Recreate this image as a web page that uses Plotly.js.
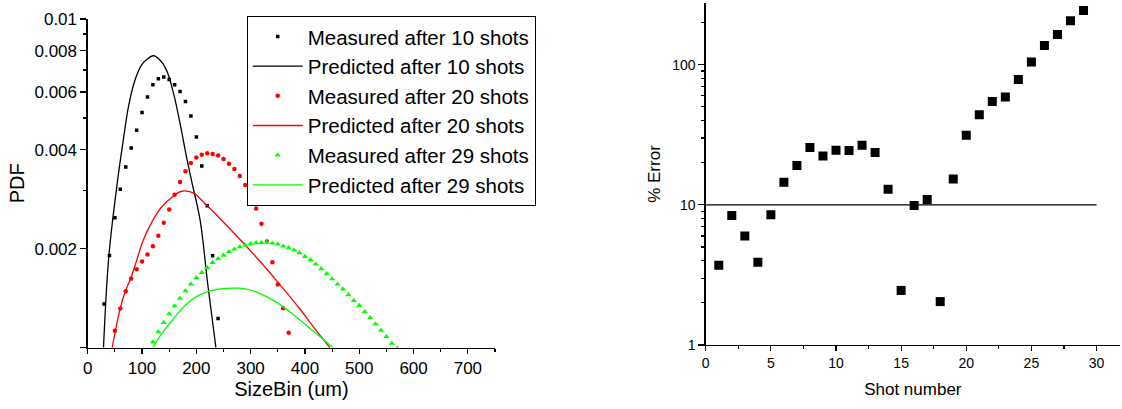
<!DOCTYPE html>
<html>
<head>
<meta charset="utf-8">
<script src="https://cdn.plot.ly/plotly-3.0.1.min.js"></script>
<style>
  html, body { margin: 0; padding: 0; background: #fff; }
  #chart { width: 1122px; height: 409px; }
</style>
</head>
<body>
<div id="chart"></div>
<script>
// Size distributions (PDF vs size bin, um)
const sizeBins10 = [30, 40, 50, 60, 70, 80, 90, 100, 110, 120, 130, 140, 150, 160, 170, 180, 190, 200, 210, 220, 230, 240];
const measured10 = [0.001359, 0.001908, 0.002485, 0.003032, 0.003545, 0.004052, 0.004587, 0.005194, 0.005795, 0.006305, 0.006577, 0.006656, 0.006549, 0.006305, 0.006018, 0.005613, 0.005072, 0.004377, 0.003570, 0.002704, 0.001904, 0.001228];

const predBins10 = [29, 39, 55, 65.5, 75, 87, 99, 108.6, 121, 133, 145, 158, 170, 182, 191, 207, 221, 236];
const predicted10 = [0.001, 0.00191, 0.00323, 0.00428, 0.00541, 0.00652, 0.00724, 0.00753, 0.00773, 0.00750, 0.00699, 0.00594, 0.00481, 0.00380, 0.00323, 0.00244, 0.00156, 0.001];

const sizeBins20 = [50, 60, 70, 80, 90, 100, 110, 120, 130, 140, 150, 160, 170, 180, 190, 200, 210, 220, 230, 240, 250, 260, 270, 280, 290, 300, 310, 320, 330, 340, 350, 360, 370];
const measured20 = [0.001127, 0.001315, 0.001485, 0.001623, 0.001733, 0.001829, 0.001921, 0.002036, 0.002190, 0.002400, 0.002634, 0.002920, 0.003191, 0.003440, 0.003646, 0.003787, 0.003867, 0.003903, 0.003884, 0.003841, 0.003750, 0.003631, 0.003496, 0.003328, 0.003124, 0.002906, 0.002653, 0.002383, 0.002104, 0.001820, 0.001556, 0.001318, 0.001111];

const predBins20 = [45, 60, 69, 79, 90, 102, 118, 136, 155, 173, 197, 207, 243, 280, 317, 354, 391, 418, 446];
const predicted20 = [0.001, 0.001321, 0.001483, 0.001622, 0.001841, 0.002118, 0.002410, 0.002679, 0.002871, 0.002992, 0.002944, 0.002838, 0.002477, 0.002138, 0.001832, 0.001556, 0.001309, 0.001143, 0.001];

const sizeBins29 = [120, 130, 140, 150, 160, 170, 180, 190, 200, 210, 220, 230, 240, 250, 260, 270, 280, 290, 300, 310, 320, 330, 340, 350, 360, 370, 380, 390, 400, 410, 420, 430, 440, 450, 460, 470, 480, 490, 500, 510, 520, 530, 540, 550, 560, 570];
const measured29 = [0.001041, 0.001117, 0.001192, 0.001267, 0.001340, 0.001413, 0.001489, 0.001560, 0.001631, 0.001693, 0.001753, 0.001815, 0.001865, 0.001911, 0.001959, 0.001994, 0.002025, 0.002053, 0.002071, 0.002085, 0.002089, 0.002094, 0.002080, 0.002065, 0.002036, 0.002014, 0.001980, 0.001944, 0.001894, 0.001851, 0.001795, 0.001738, 0.001678, 0.001620, 0.001560, 0.001508, 0.001448, 0.001391, 0.001343, 0.001287, 0.001234, 0.001181, 0.001129, 0.001080, 0.001031, 0.000996];

const predBins29 = [120, 136, 155, 179, 204, 228, 253, 274, 290, 311, 348, 385, 418, 452];
const predicted29 = [0.001, 0.001102, 0.001208, 0.001343, 0.001442, 0.001493, 0.001514, 0.001517, 0.001510, 0.001476, 0.001374, 0.001236, 0.001114, 0.001];

// Prediction error per shot
const shotNumber = [1, 2, 3, 4, 5, 6, 7, 8, 9, 10, 11, 12, 13, 14, 15, 16, 17, 18, 19, 20, 21, 22, 23, 24, 25, 26, 27, 28, 29];
const percentError = [3.7, 8.4, 6.0, 3.9, 8.5, 14.5, 19.1, 25.6, 22.3, 24.5, 24.4, 26.6, 23.6, 12.9, 2.45, 9.9, 10.9, 2.04, 15.3, 31.4, 44.0, 54.6, 58.9, 78.3, 104.5, 137, 164, 206, 243];
const thresholdX = [0, 30];
const thresholdY = [10, 10];

// Axis tick labels
const pdfTicks = [0.001, 0.002, 0.004, 0.006, 0.008, 0.01];
const pdfTickText = ['', '0.002', '0.004', '0.006', '0.008', '0.01'];
const pdfMinorTicks = [0.003, 0.005, 0.007, 0.009];
const errTicks = [1, 10, 100];
const errTickText = ['1', '10', '100'];
const errMinorTicks = [2, 3, 4, 5, 6, 7, 8, 9, 20, 30, 40, 50, 60, 70, 80, 90, 200];

const FONT = '"Liberation Sans", Arial, sans-serif';
const BLACK = '#000000', RED = '#ff0000', GREEN = '#00ff00';

const traces = [
  { x: sizeBins10, y: measured10, name: 'Measured after 10 shots', mode: 'markers',
    marker: { symbol: 'square', size: 3.5, color: BLACK }, xaxis: 'x', yaxis: 'y' },
  { x: predBins10, y: predicted10, name: 'Predicted after 10 shots', mode: 'lines',
    line: { color: BLACK, width: 1.3, shape: 'spline', smoothing: 1 }, xaxis: 'x', yaxis: 'y' },
  { x: sizeBins20, y: measured20, name: 'Measured after 20 shots', mode: 'markers',
    marker: { symbol: 'circle', size: 4.5, color: RED }, xaxis: 'x', yaxis: 'y' },
  { x: predBins20, y: predicted20, name: 'Predicted after 20 shots', mode: 'lines',
    line: { color: RED, width: 1.3, shape: 'spline', smoothing: 1 }, xaxis: 'x', yaxis: 'y' },
  { x: sizeBins29, y: measured29, name: 'Measured after 29 shots', mode: 'markers',
    marker: { symbol: 'triangle-up', size: 5.5, color: GREEN }, xaxis: 'x', yaxis: 'y' },
  { x: predBins29, y: predicted29, name: 'Predicted after 29 shots', mode: 'lines',
    line: { color: GREEN, width: 1.3, shape: 'spline', smoothing: 1 }, xaxis: 'x', yaxis: 'y' },
  { x: shotNumber, y: percentError, mode: 'markers', showlegend: false,
    marker: { symbol: 'square', size: 9, color: BLACK }, xaxis: 'x2', yaxis: 'y2' },
  { x: thresholdX, y: thresholdY, mode: 'lines', showlegend: false,
    line: { color: BLACK, width: 1.2 }, xaxis: 'x2', yaxis: 'y2' }
];

const axisBase = {
  showgrid: false, zeroline: false, showline: true, linecolor: BLACK, linewidth: 1.3,
  ticks: 'outside', tickcolor: BLACK, tickwidth: 1.2, automargin: false
};

const layout = {
  width: 1122, height: 409,
  margin: { l: 0, r: 0, t: 0, b: 0 },
  paper_bgcolor: '#ffffff', plot_bgcolor: '#ffffff',
  font: { family: FONT, color: BLACK },
  showlegend: true,
  legend: {
    x: 0.2199, y: 0.9616, xanchor: 'left', yanchor: 'top',
    bgcolor: '#ffffff', bordercolor: BLACK, borderwidth: 1,
    font: { family: FONT, size: 20.5, color: BLACK },
    itemwidth: 50, tracegroupgap: 0
  },
  xaxis: Object.assign({}, axisBase, {
    domain: [0.0782, 0.4412], range: [0, 750], anchor: 'y',
    tickmode: 'linear', tick0: 0, dtick: 100, ticklen: 5,
    tickfont: { size: 17 },
    minor: { dtick: 50, tick0: 0, ticklen: 3, ticks: 'outside', tickcolor: BLACK, showgrid: false },
    title: { text: 'SizeBin (um)', font: { size: 20 }, standoff: 3 }
  }),
  yaxis: Object.assign({}, axisBase, {
    type: 'log', domain: [0.1499, 0.9535], range: [-3, -2], anchor: 'x',
    tickmode: 'array', tickvals: pdfTicks, ticktext: pdfTickText, ticklen: 6,
    tickfont: { size: 17 },
    minor: { tickmode: 'array', tickvals: pdfMinorTicks, ticklen: 3, ticks: 'outside', tickcolor: BLACK, showgrid: false },
    title: { text: 'PDF', font: { size: 20 }, standoff: 4 }
  }),
  xaxis2: Object.assign({}, axisBase, {
    domain: [0.629, 0.9982], range: [0, 31.8], anchor: 'y2',
    tickmode: 'linear', tick0: 0, dtick: 5, ticklen: 5,
    tickfont: { size: 14 },
    minor: { dtick: 2.5, tick0: 0, ticklen: 3, ticks: 'outside', tickcolor: BLACK, showgrid: false },
    title: { text: 'Shot number', font: { size: 17 }, standoff: 13 }
  }),
  yaxis2: Object.assign({}, axisBase, {
    type: 'log', domain: [0.1565, 0.9927], range: [0, 2.44], anchor: 'x2',
    tickmode: 'array', tickvals: errTicks, ticktext: errTickText, ticklen: 6,
    tickfont: { size: 14 },
    minor: { tickmode: 'array', tickvals: errMinorTicks, ticklen: 3, ticks: 'outside', tickcolor: BLACK, showgrid: false },
    title: { text: '% Error', font: { size: 17 }, standoff: 7 }
  })
};

Plotly.newPlot('chart', traces, layout, { staticPlot: true, displayModeBar: false });
</script>
</body>
</html>
